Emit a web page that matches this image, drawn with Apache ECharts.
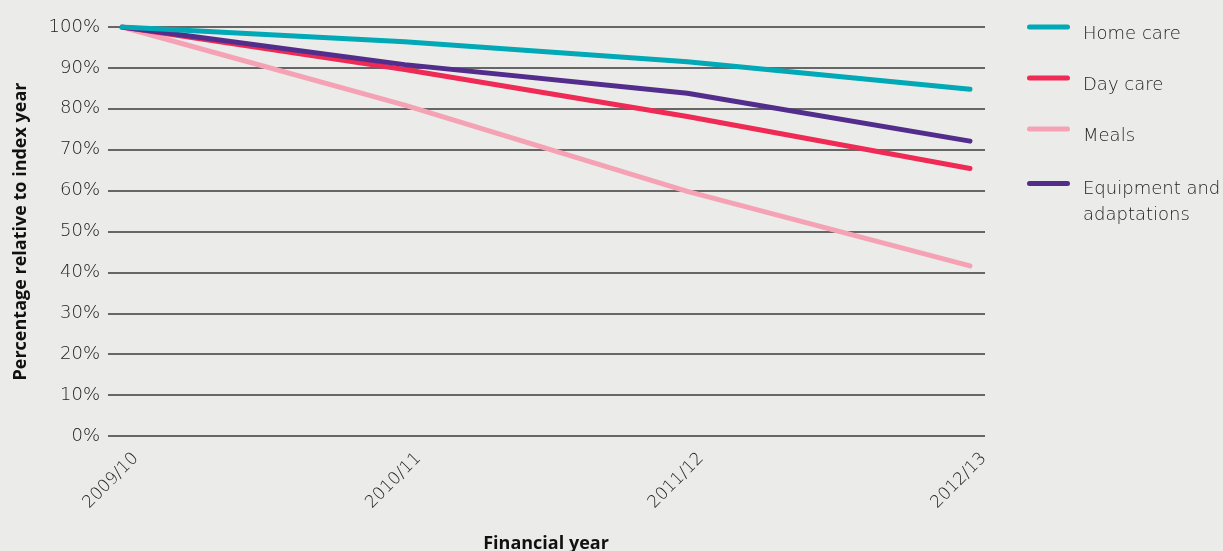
<!DOCTYPE html>
<html><head><meta charset="utf-8">
<script src="https://cdn.jsdelivr.net/npm/echarts@6/dist/echarts.min.js"></script>
<style>html,body{margin:0;padding:0;background:#ebebe9;}#c{width:1223px;height:551px;}</style>
</head><body><div id="c"></div>
<script>
const categories = ['2009/10', '2010/11', '2011/12', '2012/13'];
const homeCare = [100, 96.4, 91.5, 84.8];
const dayCare = [100, 89.6, 78.1, 65.4];
const meals = [100, 80.9, 59.8, 41.6];
const equipment = [100, 90.8, 83.8, 72.1];
const yTicks = { min: 0, max: 100, interval: 10 };
const seriesNames = ['Home care', 'Day care', 'Meals', 'Equipment and adaptations'];
const colors = ['#00a9b5', '#ee2a55', '#f5a2b5', '#522d8c'];
const seriesData = [homeCare, dayCare, meals, equipment];

const font = 'DejaVu Sans';
const titleFont = 'Open Sans';
const textColor = '#222';
const chart = echarts.init(document.getElementById('c'));
// swatch bar sits at the top of the icon box; text is centred lower in the box
const iconSingle = 'path://M2.5,0 L40.5,0 A2.5,2.5 0 0 1 40.5,5 L2.5,5 A2.5,2.5 0 0 1 2.5,0 Z M0,20 L0.01,20 L0,20 Z';
const iconDouble = 'path://M2.5,0 L40.5,0 A2.5,2.5 0 0 1 40.5,5 L2.5,5 A2.5,2.5 0 0 1 2.5,0 Z M0,43 L0.01,43 L0,43 Z';
const legendTops = [24.5, 75.5, 126.5, 176.5];
const legends = seriesNames.map((n, i) => {
  const two = n === 'Equipment and adaptations';
  return {
    data: [n],
    left: 1027,
    top: legendTops[i],
    padding: 0,
    itemWidth: 43,
    itemHeight: two ? 43 : 20,
    icon: two ? iconDouble : iconSingle,
    selectedMode: false,
    formatter: two ? 'Equipment and\nadaptations' : '{name}',
    textStyle: { fontFamily: font, fontWeight: 200, fontSize: 18, color: textColor,
      lineHeight: two ? 26 : 20, padding: [0, 0, 0, 8] }
  };
});
chart.setOption({
  backgroundColor: '#ebebe9',
  animation: false,
  legend: legends,
  grid: [
    { left: 108, right: 238, top: 27, bottom: 115, outerBoundsMode: 'none', containLabel: false },
    { left: 122, right: 253, top: 27, bottom: 115, outerBoundsMode: 'none', containLabel: false }
  ],
  xAxis: [
    { gridIndex: 0, type: 'value', show: false, min: 0, max: 1 },
    { gridIndex: 1, type: 'category', data: categories, boundaryGap: false,
      axisLine: { show: false }, axisTick: { show: false },
      axisLabel: { rotate: 45, margin: 6, verticalAlign: 'top', padding: [11, 0, 0, 0],
        fontFamily: font, fontWeight: 200, fontSize: 17, color: textColor },
      name: 'Financial year', nameLocation: 'middle', nameGap: 99,
      nameTextStyle: { fontFamily: titleFont, fontWeight: 'bold', fontSize: 18, color: '#111' } }
  ],
  yAxis: [
    { gridIndex: 0, type: 'value', min: yTicks.min, max: yTicks.max, interval: yTicks.interval,
      axisLine: { show: false }, axisTick: { show: false },
      axisLabel: { formatter: '{value}%', margin: 8, fontFamily: font, fontWeight: 200, fontSize: 18, color: textColor },
      splitLine: { lineStyle: { color: '#3a3a3a', width: 1.5 } },
      name: 'Percentage relative to index year', nameLocation: 'middle', nameGap: 78, nameRotate: 90,
      nameTextStyle: { fontFamily: titleFont, fontWeight: 'bold', fontSize: 18, color: '#111' } },
    { gridIndex: 1, type: 'value', min: yTicks.min, max: yTicks.max, interval: yTicks.interval, show: false,
      splitLine: { show: false } }
  ],
  series: seriesNames.map((n, i) => ({
    name: n, type: 'line', xAxisIndex: 1, yAxisIndex: 1, data: seriesData[i],
    showSymbol: false, symbol: 'none', color: colors[i],
    lineStyle: { width: 5, color: colors[i], cap: 'round', join: 'round' },
    z: [4, 3, 2, 3.5][i]
  }))
});
</script></body></html>
